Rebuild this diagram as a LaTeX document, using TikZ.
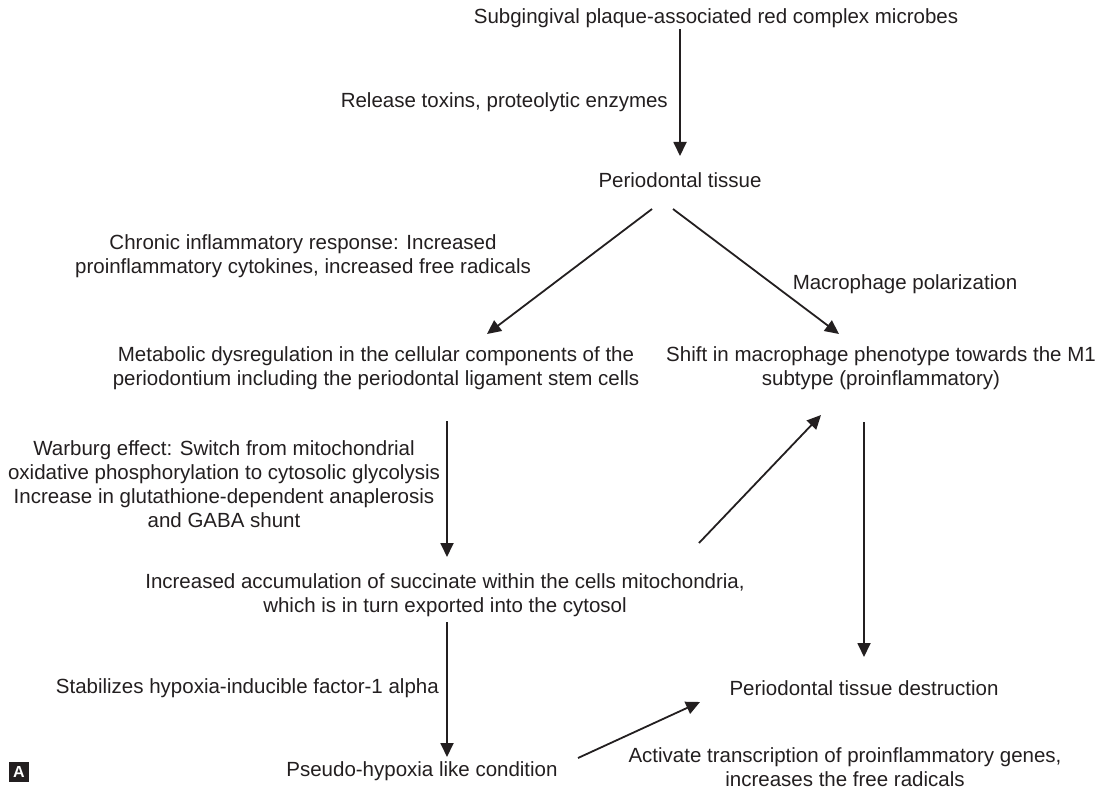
\documentclass[tikz,border=0pt]{standalone}
\usepackage{fontspec}
\setmainfont{Liberation Sans}
\usetikzlibrary{arrows.meta}
\definecolor{ink}{HTML}{231F20}
\begin{document}
\begin{tikzpicture}[x=1pt,y=-1pt,
  txt/.style={inner sep=0pt, align=center, text=ink, font=\fontsize{20.5}{24}\selectfont},
  arr/.style={draw=ink, line width=1.8pt, -{Triangle[length=14pt,width=13pt]}},
  tag/.style={fill=ink, text=white, inner sep=0pt, minimum size=20pt, font=\bfseries\fontsize{16}{16}\selectfont}]
\useasboundingbox[fill=white] (0,0) rectangle (1106,789);

\node[txt] (src) at (716,18) {Subgingival plaque-associated red complex microbes};
\node[txt, anchor=east] (rel) at (668,102) {Release toxins, proteolytic enzymes};
\node[txt] (pt) at (680,180) {Periodontal tissue};
\node[txt] (chr) at (303,256) {Chronic inflammatory response: Increased\\proinflammatory cytokines, increased free radicals};
\node[txt] (mpol) at (905,284) {Macrophage polarization};
\node[txt] (met) at (376,368) {Metabolic dysregulation in the cellular components of the\\periodontium including the periodontal ligament stem cells};
\node[txt] (shift) at (881,368) {Shift in macrophage phenotype towards the M1\\subtype (proinflammatory)};
\node[txt] (war) at (224,484) {Warburg effect: Switch from mitochondrial\\oxidative phosphorylation to cytosolic glycolysis\\Increase in glutathione-dependent anaplerosis\\and GABA shunt};
\node[txt] (suc) at (445,595) {Increased accumulation of succinate within the cells mitochondria,\\which is in turn exported into the cytosol};
\node[txt, anchor=east] (stab) at (439,688) {Stabilizes hypoxia-inducible factor-1 alpha};
\node[txt] (ptd) at (864,688) {Periodontal tissue destruction};
\node[txt] (pseudo) at (422,771) {Pseudo-hypoxia like condition};
\node[txt] (act) at (845,767) {Activate transcription of proinflammatory genes,\\increases the free radicals};
\node[tag] (lbl) at (19,772) {A};

\coordinate (a1s) at (680,29);  \coordinate (a1e) at (680,156);
\coordinate (a2s) at (652,209); \coordinate (a2e) at (487,334);
\coordinate (a3s) at (673,209); \coordinate (a3e) at (839,334);
\coordinate (a4s) at (447,421); \coordinate (a4e) at (447,557);
\coordinate (a5s) at (699,543); \coordinate (a5e) at (821,415);
\coordinate (a6s) at (864,422); \coordinate (a6e) at (864,657);
\coordinate (a7s) at (447,622); \coordinate (a7e) at (447,757);
\coordinate (a8s) at (578,758); \coordinate (a8e) at (700,702);

\draw[arr] (a1s) -- (a1e);
\draw[arr] (a2s) -- (a2e);
\draw[arr] (a3s) -- (a3e);
\draw[arr] (a4s) -- (a4e);
\draw[arr] (a5s) -- (a5e);
\draw[arr] (a6s) -- (a6e);
\draw[arr] (a7s) -- (a7e);
\draw[arr] (a8s) -- (a8e);
\end{tikzpicture}
\end{document}
